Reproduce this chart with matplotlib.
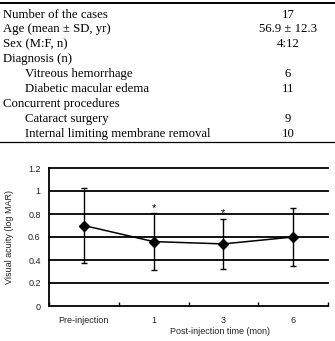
import matplotlib
matplotlib.use("Agg")
import matplotlib.pyplot as plt
from matplotlib.lines import Line2D

# table rows (label, value, indented)
row_labels = ["Number of the cases", "Age (mean \u00b1 SD, yr)", "Sex (M:F, n)",
              "Diagnosis (n)", "Vitreous hemorrhage", "Diabetic macular edema",
              "Concurrent procedures", "Cataract surgery",
              "Internal limiting membrane removal"]
row_values = ["17", "56.9 \u00b1 12.3", "4:12", "", "6", "11", "", "9", "10"]
row_indent = [False, False, False, False, True, True, False, True, True]

# chart data
categories = ["Pre-injection", "1", "3", "6"]
va_mean = [0.70, 0.56, 0.54, 0.60]
va_sd = [0.33, 0.245, 0.22, 0.25]
signif = [False, True, True, False]
y_ticks = [0, 0.2, 0.4, 0.6, 0.8, 1.0, 1.2]
y_ticklabels = ["0", "0.2", "0.4", "0.6", "0.8", "1", "1.2"]

W, H = 335, 341
fig = plt.figure(figsize=(W / 100, H / 100), dpi=100)


def fy(py):
    return 1 - py / H


# table
serif = "Liberation Serif"
fig.add_artist(Line2D([0, 1], [fy(3), fy(3)], color="black", lw=1.4))
fig.add_artist(Line2D([0, 1], [fy(142), fy(142)], color="black", lw=0.9))
for i, (lab, val, ind) in enumerate(zip(row_labels, row_values, row_indent)):
    py = 14.5 + i * 14.9
    fig.text((25 if ind else 3) / W, fy(py), lab, family=serif, fontsize=9.2,
             ha="left", va="center")
    if val:
        fig.text(288 / W, fy(py), val, family=serif, fontsize=9.2,
                 ha="center", va="center")

# chart
sans = "Liberation Sans"
fs = 6.5
ax = fig.add_axes([49 / W, fy(306), 279 / W, (306 - 168) / H])
x = [i + 0.5 for i in range(len(categories))]
ax.errorbar(x, va_mean, yerr=va_sd, color="black", lw=1.1, elinewidth=1.0,
            capsize=2, capthick=1.0, marker="D", markersize=5, zorder=3)
for xi, m, s, sg in zip(x, va_mean, va_sd, signif):
    if sg:
        ax.text(xi, m + s + 0.005, "*", ha="center", va="bottom",
                fontsize=8, family=sans)

ax.set_xlim(0, len(categories))
ax.set_ylim(0, 1.2)
ax.set_yticks(y_ticks)
ax.set_yticklabels(y_ticklabels, family=sans, fontsize=fs, color="#222222")
for yt in y_ticks[1:]:
    ax.axhline(yt, color="black", lw=1.3, zorder=1, clip_on=False)
ax.set_xticks(range(len(categories) + 1))
ax.set_xticklabels([])
ax.tick_params(axis="x", direction="in", length=3, width=1.0)
ax.tick_params(axis="y", length=0, pad=6)
for xi, c in zip(x, categories):
    ax.text(xi, -0.09, c, ha="center", va="top", fontsize=fs, family=sans,
            color="#222222")
for sp in ["top", "right"]:
    ax.spines[sp].set_visible(False)
for sp in ["left", "bottom"]:
    ax.spines[sp].set_linewidth(1.3)

fig.text(220 / W, fy(331), "Post-injection time (mon)", ha="center",
         va="center", fontsize=fs, family=sans, color="#222222")
fig.text(10 / W, fy(237), "Visual acuity (log MAR)", ha="center",
         va="center", rotation=90, fontsize=fs, family=sans, color="#222222")

fig.savefig("out.png", dpi=100)
